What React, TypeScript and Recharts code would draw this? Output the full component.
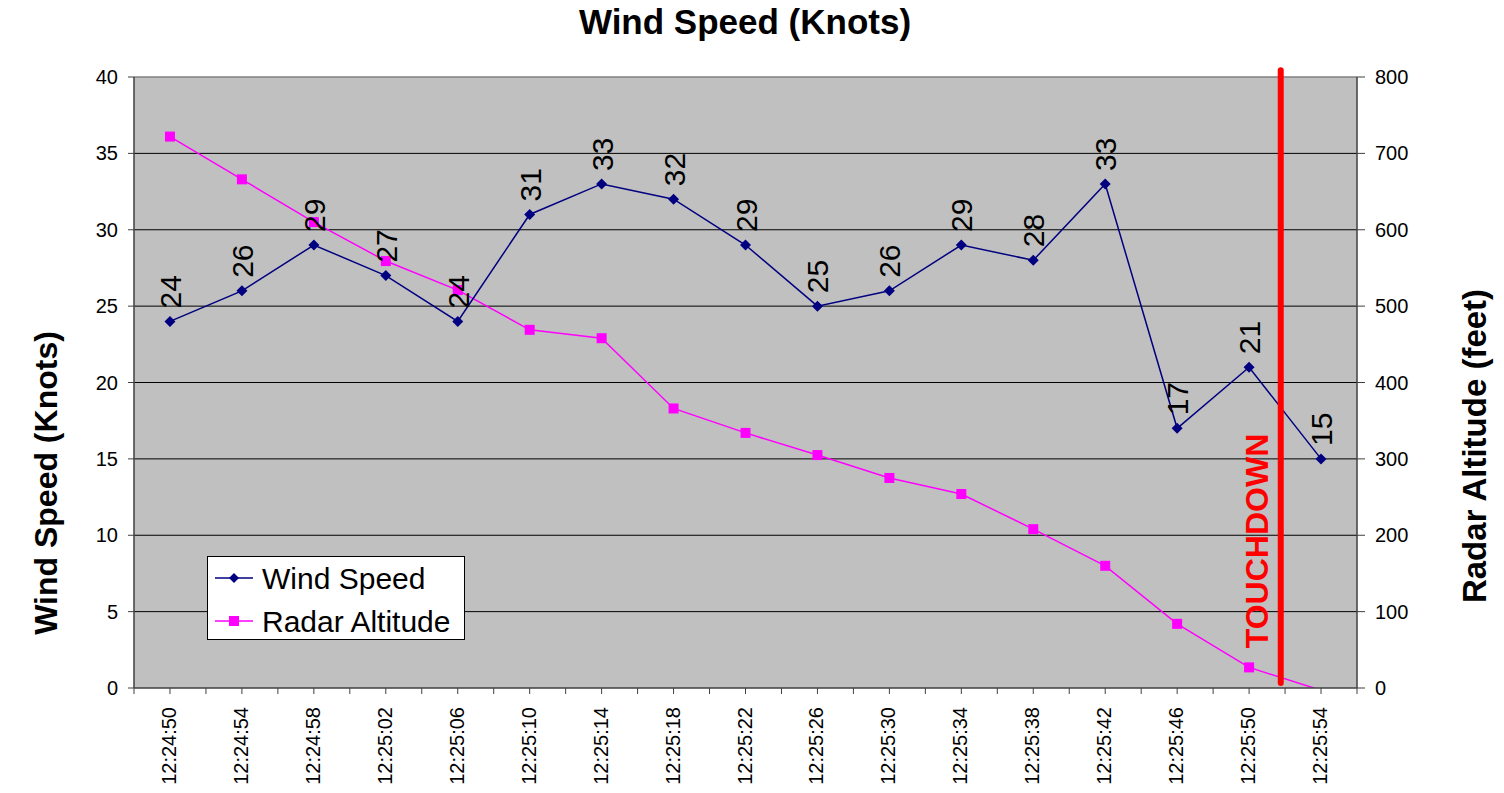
import React from 'react';
import {
  ComposedChart,
  Line,
  XAxis,
  YAxis,
  ReferenceLine,
  ReferenceArea,
  LabelList,
  Legend,
} from 'recharts';

const times = [
  '12:24:50', '12:24:54', '12:24:58', '12:25:02', '12:25:06', '12:25:10',
  '12:25:14', '12:25:18', '12:25:22', '12:25:26', '12:25:30', '12:25:34',
  '12:25:38', '12:25:42', '12:25:46', '12:25:50', '12:25:54',
];
const windSpeed = [24, 26, 29, 27, 24, 31, 33, 32, 29, 25, 26, 29, 28, 33, 17, 21, 15];
const radarAltitude = [722, 666, 610, 559, 521, 469, 458, 366, 334, 305, 275, 254, 208, 160, 84, 27, -3];
const leftTicks = [0, 5, 10, 15, 20, 25, 30, 35, 40];
const rightTicks = [0, 100, 200, 300, 400, 500, 600, 700, 800];
const gridValues = [5, 10, 15, 20, 25, 30, 35];
const touchdownPosition = 15.44;

const data = times.map((t, i) => ({
  idx: i,
  time: t,
  wind: windSpeed[i],
  radar: radarAltitude[i],
}));

const xTicks: number[] = [];
for (let i = -1; i <= 33; i++) xTicks.push(i / 2);

const FONT = '"Liberation Sans", Arial, Helvetica, sans-serif';
const NAVY = '#000080';
const MAGENTA = '#FF00FF';

const XTick = (props: any) => {
  const { x, payload } = props;
  const v = payload?.value;
  if (!Number.isInteger(v) || v < 0 || v >= times.length) return <g />;
  return (
    <text
      transform={`translate(${x + 6},707) rotate(-90)`}
      textAnchor="end"
      fontSize={20}
      fill="#000"
      fontFamily={FONT}
    >
      {times[v]}
    </text>
  );
};

const Diamond = (props: any) => {
  const { cx, cy } = props;
  if (cx == null || cy == null) return <g />;
  const r = 5.5;
  return <path d={`M${cx},${cy - r}L${cx + r},${cy}L${cx},${cy + r}L${cx - r},${cy}Z`} fill={NAVY} />;
};

const Square = (props: any) => {
  const { cx, cy, value } = props;
  if (cx == null || cy == null) return <g />;
  // markers outside the axis range are hidden, as in the original
  if (typeof value === 'number' && value < 0) return <g />;
  const s = 10;
  return <rect x={cx - s / 2} y={cy - s / 2} width={s} height={s} fill={MAGENTA} />;
};

const WindLabel = (props: any) => {
  const x = props.x ?? props.viewBox?.x;
  const y = props.y ?? props.viewBox?.y;
  if (x == null || y == null) return <g />;
  return (
    <text
      transform={`translate(${x + 11},${y - 13}) rotate(-90)`}
      textAnchor="start"
      fontSize={30}
      fill="#000"
      fontFamily={FONT}
    >
      {props.value}
    </text>
  );
};

const LegendBox = () => (
  <svg width={258} height={84} style={{ display: 'block' }}>
    <rect x={0.5} y={0.5} width={257} height={83} fill="#fff" stroke="#000" strokeWidth={1} />
    <line x1={8} x2={46} y1={22} y2={22} stroke={NAVY} strokeWidth={1.5} />
    <path d="M27,17L32,22L27,27L22,22Z" fill={NAVY} />
    <text x={55} y={33} fontSize={30} fill="#000" fontFamily={FONT}>Wind Speed</text>
    <line x1={8} x2={46} y1={65} y2={65} stroke={MAGENTA} strokeWidth={1.5} />
    <rect x={22} y={60} width={10} height={10} fill={MAGENTA} />
    <text x={55} y={76} fontSize={30} fill="#000" fontFamily={FONT}>Radar Altitude</text>
  </svg>
);

export default function App() {
  return (
    <div style={{ position: 'absolute', left: 0, top: 0, width: 1504, height: 793, fontFamily: FONT, background: '#fff' }}>
      <ComposedChart
        width={1504}
        height={793}
        data={data}
        margin={{ top: 77, right: 0, bottom: 0, left: 0 }}
      >
        <XAxis
          dataKey="idx"
          type="number"
          domain={[-0.5, 16.5]}
          ticks={xTicks}
          interval={0}
          height={105}
          tick={<XTick />}
          tickSize={6}
          axisLine={{ stroke: '#404040', strokeWidth: 1.5 }}
          tickLine={{ stroke: '#404040' }}
        />
        <YAxis
          yAxisId="left"
          orientation="left"
          domain={[0, 40]}
          ticks={leftTicks}
          interval={0}
          width={134}
          tickSize={6}
          tickMargin={10}
          tick={{ fontSize: 20, fill: '#000' }}
          axisLine={{ stroke: '#404040', strokeWidth: 1.5 }}
          tickLine={{ stroke: '#404040' }}
        />
        <YAxis
          yAxisId="right"
          orientation="right"
          domain={[0, 800]}
          allowDataOverflow
          ticks={rightTicks}
          interval={0}
          width={147}
          tickSize={8}
          tickMargin={10}
          tick={{ fontSize: 20, fill: '#000', textAnchor: 'start' }}
          axisLine={{ stroke: '#404040', strokeWidth: 1.5 }}
          tickLine={{ stroke: '#404040' }}
        />
        <ReferenceArea
          yAxisId="left"
          x1={-0.5}
          x2={16.5}
          y1={0}
          y2={40}
          fill="#C0C0C0"
          fillOpacity={1}
          stroke="none"
        />
        <ReferenceLine yAxisId="left" y={40} stroke="#808080" strokeWidth={1.5} />
        {gridValues.map((v) => (
          <ReferenceLine key={v} yAxisId="left" y={v} stroke="#000" strokeWidth={1} />
        ))}
        <Line
          yAxisId="right"
          dataKey="radar"
          stroke={MAGENTA}
          strokeWidth={1.5}
          dot={<Square />}
          activeDot={false}
          isAnimationActive={false}
        />
        <Line
          yAxisId="left"
          dataKey="wind"
          stroke={NAVY}
          strokeWidth={1.5}
          dot={<Diamond />}
          activeDot={false}
          isAnimationActive={false}
        >
          <LabelList dataKey="wind" content={<WindLabel />} />
        </Line>
        <ReferenceLine
          yAxisId="right"
          segment={[
            { x: touchdownPosition, y: 6.5 },
            { x: touchdownPosition, y: 809 },
          ]}
          ifOverflow="visible"
          stroke="#FF0000"
          strokeWidth={6}
          strokeLinecap="round"
        />
        <Legend
          layout="vertical"
          align="center"
          verticalAlign="middle"
          content={<LegendBox />}
          wrapperStyle={{ position: 'absolute', left: 207, top: 556, width: 258, height: 84 }}
        />
      </ComposedChart>
      <svg
        width={1504}
        height={793}
        style={{ position: 'absolute', left: 0, top: 0, pointerEvents: 'none' }}
      >
        <text x={745} y={34} textAnchor="middle" fontSize={35} fontWeight="bold" fill="#000" fontFamily={FONT}>
          Wind Speed (Knots)
        </text>
        <text
          transform="translate(57,483) rotate(-90)"
          textAnchor="middle"
          fontSize={32}
          fontWeight="bold"
          fill="#000"
          fontFamily={FONT}
        >
          Wind Speed (Knots)
        </text>
        <text
          transform="translate(1486,446) rotate(-90)"
          textAnchor="middle"
          fontSize={33}
          fontWeight="bold"
          fill="#000"
          fontFamily={FONT}
        >
          Radar Altitude (feet)
        </text>
        <text
          transform="translate(1268,541) rotate(-90)"
          textAnchor="middle"
          fontSize={32}
          fontWeight="bold"
          fill="#FF0000"
          fontFamily={FONT}
        >
          TOUCHDOWN
        </text>
      </svg>
    </div>
  );
}
